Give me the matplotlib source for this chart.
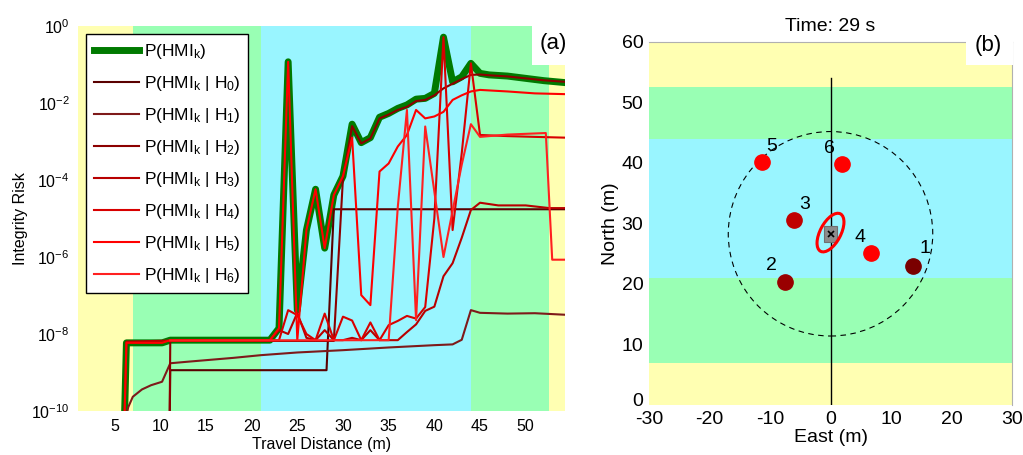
import numpy as np
import matplotlib
matplotlib.use("Agg")
import matplotlib.pyplot as plt
from matplotlib.patches import Ellipse, Circle, Rectangle
import matplotlib.transforms as mtransforms

plt.rcParams['font.family'] = ['Liberation Sans', 'DejaVu Sans']
plt.rcParams['mathtext.fontset'] = 'custom'
plt.rcParams['mathtext.rm'] = 'Liberation Sans'
plt.rcParams['mathtext.it'] = 'Liberation Sans'
plt.rcParams['mathtext.default'] = 'regular'
plt.rcParams['axes.unicode_minus'] = False

# zone limits (m), shared by both panels
zona_lim = [1, 7, 21, 44, 52.6, 54.3]
zona_cor = ['#ffffb2', '#99ffb4', '#99f5ff', '#99ffb4', '#ffffb2']

# (a) integrity risk, log10 values
d_tot = [6.0, 6.3, 10.2, 11.1, 22, 23, 24, 25, 26, 27, 28, 29, 30, 31, 32, 33, 34, 35, 36,
         37, 38, 39, 40, 41, 42, 43, 44, 45, 46, 48, 50, 52, 54.3]
v_tot = [-11, -8.23, -8.23, -8.16, -8.16, -7.85, -0.93, -7.38, -5.3, -4.24, -5.77, -4.39, -3.9,
         -2.55, -3.03, -2.9, -2.37, -2.27, -2.14, -2.05, -1.9, -1.88, -1.75, -0.29, -1.45, -1.32,
         -0.97, -1.23, -1.27, -1.3, -1.36, -1.42, -1.47]

d_h0 = [11.0, 11.1, 28.2, 29.0, 54.3]
v_h0 = [-11, -8.94, -8.94, -4.76, -4.76]

d_h1 = [6.1, 6.5, 7, 8, 9, 10.2, 11.1, 13, 15, 18, 21, 25, 30, 35, 40, 42, 43, 44, 45, 48, 51, 54.3]
v_h1 = [-10.3, -9.9, -9.63, -9.44, -9.33, -9.24, -8.76, -8.72, -8.68, -8.62, -8.55, -8.48, -8.42,
        -8.35, -8.29, -8.27, -8.15, -7.38, -7.45, -7.47, -7.46, -7.5]

d_h2 = [11.0, 11.1, 29, 30, 31, 32, 33, 34, 35, 36, 37, 38, 39, 40, 41, 42, 43, 44, 45, 46, 48,
        50, 52, 54.3]
v_h2 = [-11, -8.18, -8.18, -3.95, -2.6, -3.05, -2.92, -2.4, -2.3, -2.18, -2.1, -1.95, -1.92,
        -1.8, -1.62, -1.5, -1.38, -1.27, -1.26, -1.28, -1.31, -1.36, -1.41, -1.45]

d_h3 = [6.0, 6.3, 11.1, 22, 23, 24, 25, 26, 27, 28, 29, 30, 31, 32, 33, 34, 35, 36, 37, 38,
        39, 40, 41, 42, 43, 44, 45, 47, 50, 52.6, 54.3]
v_h3 = [-11, -8.2, -8.17, -8.16, -7.9, -8.0, -7.45, -8.1, -8.16, -7.9, -8.16, -8.16, -8.1,
        -8.16, -7.9, -8.16, -8.16, -8.16, -7.95, -7.75, -7.4, -7.29, -6.5, -6.16, -5.5, -4.78,
        -4.59, -4.66, -4.66, -4.73, -4.73]

d_h4 = [11.1, 22, 23, 24, 25, 26, 27, 28, 29, 30, 31, 32, 33, 34, 35, 36, 37, 38, 39, 40, 41,
        42, 43, 44, 45, 48, 51, 54.3]
v_h4 = [-8.17, -8.17, -8.16, -7.38, -7.51, -8.0, -8.16, -7.47, -8.16, -7.55, -7.65, -8.16, -7.7,
        -8.16, -7.77, -7.66, -7.53, -7.6, -7.3, -5.0, -0.29, -5.3, -3.3, -0.97, -2.83, -2.86,
        -2.88, -2.9]

d_h5 = [6.0, 6.3, 10.2, 11.1, 22, 23, 24, 25, 26, 27, 28, 29, 30, 31, 32, 33, 34, 35, 36, 37,
        38, 39, 40, 41, 42, 43, 44, 45, 48, 51, 54.3]
v_h5 = [-11, -8.23, -8.23, -8.16, -8.16, -7.85, -0.93, -8.16, -5.3, -4.24, -5.77, -4.39, -3.9,
        -2.9, -6.99, -7.25, -3.78, -3.57, -3.13, -2.83, -2.18, -2.4, -2.35, -2.23, -1.92, -1.8,
        -1.7, -1.66, -1.7, -1.75, -1.77]

d_h6 = [11.1, 34, 35, 36, 37, 38, 39, 40, 41, 42, 43, 44, 45, 48, 52.2, 52.9, 54.3]
v_h6 = [-8.17, -8.16, -8.16, -4.7, -2.18, -7.64, -2.61, -4.3, -6.0, -4.8, -3.6, -2.55, -2.88,
        -2.82, -2.78, -6.07, -6.07]

curvas = [(d_h0, v_h0), (d_h1, v_h1), (d_h2, v_h2), (d_h3, v_h3),
          (d_h4, v_h4), (d_h5, v_h5), (d_h6, v_h6)]
cores_h = ['#5a0000', '#7e1a1a', '#8c0000', '#b80000', '#d80000', '#ff0000', '#ff2020']

# (b) landmarks and vehicle
lm_e = [13.7, -7.5, -6.0, 6.7, -11.3, 1.85]
lm_n = [23.0, 20.4, 30.5, 25.1, 40.1, 39.8]
lm_id = ['1', '2', '3', '4', '5', '6']
lm_cor = ['#7a0000', '#990000', '#c00000', '#ff0000', '#ff0000', '#ff0000']
lbl_e = [15.6, -9.7, -4.2, 4.9, -9.8, -0.1]
lbl_n = [25.8, 23.1, 33.2, 27.7, 42.7, 42.4]
veic_e, veic_n = 0.0, 28.3
raio_busca = 16.9
elip_w, elip_h, elip_ang = 7.0, 3.4, 62
trilha_n = [0, 54]

fig = plt.figure(figsize=(10.23, 4.55), dpi=100)

# ============================================================
# (a) Integrity risk
# ============================================================
ax = fig.add_axes([78/1023, 1-411/455, 487/1023, 385/455])
for i in range(len(zona_cor)):
    ax.axvspan(zona_lim[i], zona_lim[i+1], color=zona_cor[i], lw=0, zorder=0)

ax.plot(d_tot, 10.0**np.array(v_tot), color='#007a00', lw=5, solid_joinstyle='round',
        label=r'P(HMI$_k$)', zorder=2)
for i, (d, v) in enumerate(curvas):
    ax.plot(d, 10.0**np.array(v), color=cores_h[i], lw=1.5,
            label=r'P(HMI$_k$ | H$_%d$)' % i, zorder=3)

ax.set_yscale('log')
ax.set_ylim(1e-10, 1)
ax.set_xlim(zona_lim[0], zona_lim[-1])
ax.set_yticks([1e-10, 1e-8, 1e-6, 1e-4, 1e-2, 1])
ax.minorticks_off()
ax.set_xticks(range(5, 55, 5))
ax.tick_params(length=0, labelsize=11.5, pad=6)
for s in ax.spines.values():
    s.set_visible(False)
ax.set_xlabel('Travel Distance (m)', fontsize=11.5, labelpad=2)
ax.set_ylabel('Integrity Risk', fontsize=11.5, labelpad=2)

leg = ax.legend(loc='upper left', bbox_to_anchor=(0.016, 0.979), borderaxespad=0,
                fontsize=12.5, fancybox=False, framealpha=1, edgecolor='black',
                handlelength=2.6, handletextpad=0.3, labelspacing=0.75, borderpad=0.45)
leg.get_frame().set_linewidth(1.0)

ax.add_patch(Rectangle((0.932, 0.899), 0.07, 0.11, transform=ax.transAxes,
                       facecolor='white', edgecolor='none', zorder=5, clip_on=False))
ax.text(0.977, 0.955, '(a)', transform=ax.transAxes, fontsize=16, ha='center',
        va='center', zorder=6)

# ============================================================
# (b) Map
# ============================================================
bx = fig.add_axes([649/1023, 1-405/455, 363/1023, 363/455])
for i in range(len(zona_cor)):
    bx.axhspan(zona_lim[i] if i > 0 else 0, zona_lim[i+1] if i < 4 else 60,
               color=zona_cor[i], lw=0, zorder=0)

bx.plot([0, 0], trilha_n, color='black', lw=1.0, zorder=2)
bx.add_patch(Circle((veic_e, veic_n), raio_busca, fill=False, ls=(0, (5, 4)),
                    lw=0.8, edgecolor='black', zorder=2))
for e, n, c in zip(lm_e, lm_n, lm_cor):
    bx.plot(e, n, 'o', color=c, ms=11, zorder=4)
for e, n, t in zip(lbl_e, lbl_n, lm_id):
    bx.text(e, n, t, fontsize=14, ha='center', va='center', zorder=4)

bx.add_patch(Rectangle((veic_e - 1.1, veic_n - 1.3), 2.2, 2.6, facecolor='#8c8c8c',
                       edgecolor='#707070', lw=0.8, zorder=3))
bx.plot(veic_e, veic_n, 'x', color='black', ms=4, mew=1.2, zorder=4)
bx.add_patch(Ellipse((veic_e, veic_n + 0.2), elip_w, elip_h, angle=elip_ang, fill=False,
                     edgecolor='red', lw=2.2, zorder=4))

bx.set_xlim(-30, 30)
bx.set_ylim(0, 60)
bx.set_xticks(range(-30, 31, 10))
bx.set_yticks(range(0, 61, 10))
bx.tick_params(length=0, labelsize=14, pad=4)
# lift the "0" label a little so it does not sit on "-30"
lbl0 = bx.get_yticklabels()[0]
lbl0.set_transform(lbl0.get_transform() + mtransforms.ScaledTranslation(0, 4/72, fig.dpi_scale_trans))
for k, s in bx.spines.items():
    s.set_color('#b0b0b0')
    s.set_linewidth(0.8)
    s.set_visible(k in ('top', 'right'))
bx.set_xlabel('East (m)', fontsize=14, labelpad=1)
bx.set_ylabel('North (m)', fontsize=14, labelpad=2)
bx.set_title('Time: 29 s', fontsize=14, pad=8)

bx.add_patch(Rectangle((0.873, 0.937), 0.13, 0.07, transform=bx.transAxes,
                       facecolor='white', edgecolor='none', zorder=5, clip_on=False))
bx.text(0.935, 0.99, '(b)', transform=bx.transAxes, fontsize=16, ha='center',
        va='center', zorder=6)

fig.savefig('out.png', dpi=100)
